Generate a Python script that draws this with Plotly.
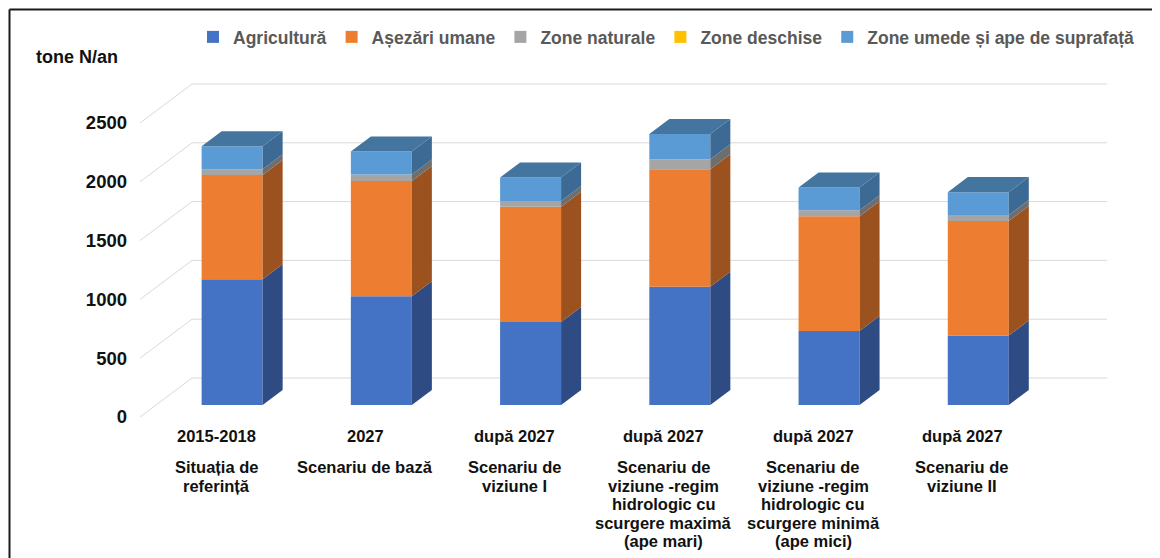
"""
Stacked 3D-style column chart: nitrogen loads (tone N/an) by source and scenario
"""

import plotly.graph_objects as go

# ---- data ----
category_years = ["2015-2018", "2027", "după 2027", "după 2027", "după 2027", "după 2027"]
category_names = [
    ["Situația de", "referință"],
    ["Scenariu de bază"],
    ["Scenariu de", "viziune I"],
    ["Scenariu de", "viziune -regim", "hidrologic cu", "scurgere maximă", "(ape mari)"],
    ["Scenariu de", "viziune -regim", "hidrologic cu", "scurgere minimă", "(ape mici)"],
    ["Scenariu de", "viziune II"],
]
series_names = ["Agricultură", "Așezări umane", "Zone naturale", "Zone deschise",
                "Zone umede și ape de suprafață"]
agricultura = [1070, 925, 705, 1005, 630, 590]
asezari_umane = [885, 980, 980, 1000, 975, 975]
zone_naturale = [50, 55, 50, 85, 50, 50]
zone_deschise = [0, 0, 0, 0, 0, 0]
zone_umede = [195, 195, 200, 215, 195, 195]
y_ticks = [0, 500, 1000, 1500, 2000, 2500]

series_values = [agricultura, asezari_umane, zone_naturale, zone_deschise, zone_umede]

# front / side / top face colours (Excel office palette)
FRONT = ['#4472C4', '#ED7D31', '#A5A5A5', '#FFC000', '#5B9BD5']
SIDE = ['#2E4B83', '#9C521F', '#6E6E6E', '#A87F00', '#3C6A94']
TOP_COLOR = '#44759F'
GRID = '#D9D9D9'
TEXT = '#111111'
FONT = "Arial, Liberation Sans, sans-serif"

# ---- geometry ----
# page pixels of the screenshot; the html body adds an 8px margin
PAGE_W, PAGE_H = 1160, 558
BODY = 8
W, H = PAGE_W - BODY, PAGE_H - BODY
PLOT_L, PLOT_R, PLOT_T, PLOT_B = 140, 1110, 60, 420   # page pixels
ZERO_PX = 417            # front plane zero level (page pixel)
PX_PER_VAL = 0.1176
X_MIN, X_MAX = -0.51, 5.99
PX_PER_CAT = (PLOT_R - PLOT_L) / (X_MAX - X_MIN)

# depth of the floor, in data units
DX = 52 / PX_PER_CAT
DY = 39 / PX_PER_VAL
BAR_F0 = 0.308           # depth position of bar front face
BAR_FD = 0.385           # bar depth
BAR_W = 61 / PX_PER_CAT

Y_MIN = (ZERO_PX - PLOT_B) / PX_PER_VAL
Y_MAX = (ZERO_PX - PLOT_T) / PX_PER_VAL


def px_x(px):
    return (px - PLOT_L) / (PLOT_R - PLOT_L)


def px_y(px):
    return (PLOT_B - px) / (PLOT_B - PLOT_T)


fig = go.Figure()

n = len(category_years)
x_front = [i + BAR_F0 * DX for i in range(n)]
base0 = BAR_F0 * DY
ddx, ddy = BAR_FD * DX, BAR_FD * DY

cum = [0.0] * n
for k, (name, vals) in enumerate(zip(series_names, series_values)):
    bases = [base0 + c for c in cum]

    # front faces
    fig.add_trace(go.Bar(
        x=x_front, y=vals, base=bases, width=BAR_W, name=name,
        marker=dict(color=FRONT[k], line=dict(width=0)),
        hovertemplate=name + ': %{y}<extra></extra>'
    ))

    # side faces
    xs, ys = [], []
    for i in range(n):
        if vals[i] <= 0:
            continue
        xr = x_front[i] + BAR_W / 2
        b, t = bases[i], bases[i] + vals[i]
        xs += [xr, xr + ddx, xr + ddx, xr, xr, None]
        ys += [b, b + ddy, t + ddy, t, b, None]
    fig.add_trace(go.Scatter(
        x=xs, y=ys, mode='lines', fill='toself', fillcolor=SIDE[k],
        line=dict(width=0, color=SIDE[k]), showlegend=False, hoverinfo='skip'
    ))

    cum = [c + v for c, v in zip(cum, vals)]

# top faces
xs, ys = [], []
for i in range(n):
    xl = x_front[i] - BAR_W / 2
    xr = x_front[i] + BAR_W / 2
    t = base0 + cum[i]
    xs += [xl, xl + ddx, xr + ddx, xr, xl, None]
    ys += [t, t + ddy, t + ddy, t, t, None]
fig.add_trace(go.Scatter(
    x=xs, y=ys, mode='lines', fill='toself', fillcolor=TOP_COLOR,
    line=dict(width=0, color=TOP_COLOR), showlegend=False, hoverinfo='skip'
))

# back wall gridlines and side wall diagonals
shapes = []
for v in y_ticks:
    shapes.append(dict(type='line', xref='x', yref='y', layer='below',
                       x0=X_MIN, y0=v, x1=X_MIN + DX, y1=v + DY,
                       line=dict(color=GRID, width=1)))
    shapes.append(dict(type='line', xref='x', yref='y', layer='below',
                       x0=X_MIN + DX, y0=v + DY, x1=X_MAX - 0.02, y1=v + DY,
                       line=dict(color=GRID, width=1)))

# outer frame (left and top edges, the rest is cropped away)
FRAME = BODY + 1.5
shapes.append(dict(type='line', xref='paper', yref='paper',
                   x0=px_x(FRAME), y0=px_y(FRAME), x1=px_x(FRAME), y1=px_y(PAGE_H + 5),
                   line=dict(color='#1A1A1A', width=2)))
shapes.append(dict(type='line', xref='paper', yref='paper',
                   x0=px_x(FRAME), y0=px_y(FRAME), x1=px_x(PAGE_W + 5), y1=px_y(FRAME),
                   line=dict(color='#1A1A1A', width=2)))

# category labels
annotations = []
for i in range(n):
    annotations.append(dict(
        x=i, y=px_y(436), xref='x', yref='paper', text='<b>%s</b>' % category_years[i],
        showarrow=False, xanchor='center', yanchor='middle',
        font=dict(family=FONT, size=16.5, color=TEXT)
    ))
    for j, line in enumerate(category_names[i]):
        annotations.append(dict(
            x=i, y=px_y(467 + 18.6 * j), xref='x', yref='paper', text='<b>%s</b>' % line,
            showarrow=False, xanchor='center', yanchor='middle',
            font=dict(family=FONT, size=16.5, color=TEXT)
        ))

# y axis title
annotations.append(dict(
    x=px_x(77), y=px_y(57), xref='paper', yref='paper', text='<b>tone N/an</b>',
    showarrow=False, xanchor='center', yanchor='middle',
    font=dict(family=FONT, size=18, color=TEXT)
))

fig.update_layout(
    width=W, height=H,
    margin=dict(l=PLOT_L - BODY, r=PAGE_W - PLOT_R, t=PLOT_T - BODY, b=PAGE_H - PLOT_B,
                autoexpand=False),
    barmode='overlay',
    plot_bgcolor='white',
    paper_bgcolor='white',
    font=dict(family=FONT),
    xaxis=dict(range=[X_MIN, X_MAX], visible=False, fixedrange=True),
    yaxis=dict(
        range=[Y_MIN, Y_MAX], showgrid=False, zeroline=False, showline=False,
        tickvals=y_ticks, ticks='', ticklabelstandoff=12,
        tickfont=dict(family=FONT, size=18.5, color=TEXT, weight='bold'),
        fixedrange=True
    ),
    legend=dict(
        orientation='h', x=px_x(193), y=px_y(37), xanchor='left', yanchor='middle',
        font=dict(family=FONT, size=17.5, color='#595959', weight='bold'),
        itemwidth=30, traceorder='normal', bgcolor='rgba(0,0,0,0)'
    ),
    shapes=shapes,
    annotations=annotations,
    showlegend=True,
)

fig.write_html("out.html")
